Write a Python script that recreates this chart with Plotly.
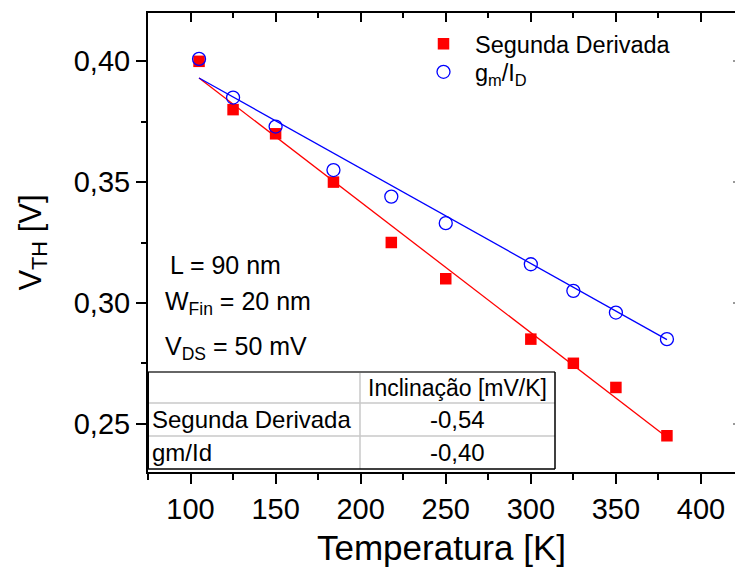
import plotly.graph_objects as go

# ---- data ----
temps = [105, 125, 150, 184, 218, 250, 300, 325, 350, 380]
vth_segunda = [0.400, 0.380, 0.370, 0.350, 0.325, 0.310, 0.285, 0.275, 0.265, 0.245]
vth_gmid = [0.401, 0.385, 0.373, 0.355, 0.344, 0.333, 0.316, 0.305, 0.296, 0.285]
fit_temps = [105, 380]
fit_segunda = [0.3931, 0.2444]
fit_gmid = [0.3931, 0.2848]
table_header = "Inclinação [mV/K]"
table_rows = ["Segunda Derivada", "gm/Id"]
table_slopes = ["-0,54", "-0,40"]
params = ["L = 90 nm", "W<sub>Fin</sub> = 20 nm", "V<sub>DS</sub> = 50 mV"]

FONT = "Liberation Sans, Arial, sans-serif"
RED = "#ff0000"
BLUE = "#0000ff"

# plot area geometry (pixels)
L, T, W, H = 148, 13, 587, 459


def px(x):
    return (x - L) / W


def py(y):
    return (T + H - y) / H


fig = go.Figure()
fig.add_trace(go.Scatter(x=fit_temps, y=fit_segunda, mode="lines",
                         line=dict(color=RED, width=1.3), showlegend=False, hoverinfo="skip"))
fig.add_trace(go.Scatter(x=fit_temps, y=fit_gmid, mode="lines",
                         line=dict(color=BLUE, width=1.3), showlegend=False, hoverinfo="skip"))
fig.add_trace(go.Scatter(x=temps, y=vth_segunda, mode="markers", name="Segunda Derivada",
                         legend="legend",
                         marker=dict(symbol="square", size=11.5, color=RED)))
fig.add_trace(go.Scatter(x=temps, y=vth_gmid, mode="markers", name="g<sub>m</sub>/I<sub>D</sub>",
                         legend="legend2",
                         marker=dict(symbol="circle-open", size=13, color=BLUE, line=dict(width=1.3, color=BLUE))))
# invisible trace for mirror axes
fig.add_trace(go.Scatter(x=[fit_temps[0]], y=[fit_segunda[0]], xaxis="x2", yaxis="y2",
                         mode="markers", marker=dict(opacity=0), showlegend=False, hoverinfo="skip"))

xr = [75, 420]
yr = [0.23, 0.42]

axis_common = dict(showgrid=False, zeroline=False, linecolor="black", linewidth=2,
                   tickcolor="black", tickwidth=1.5)

legend_common = dict(xanchor="left", yanchor="middle", bgcolor="rgba(0,0,0,0)",
                     font=dict(size=23.5), itemwidth=53, tracegroupgap=0)

fig.update_layout(
    width=735, height=567,
    margin=dict(l=L, r=0, t=T, b=567 - T - H),
    paper_bgcolor="white", plot_bgcolor="white",
    separators=",.",
    font=dict(family=FONT, color="black"),
    xaxis=dict(range=xr, tick0=100, dtick=50, ticks="outside", ticklen=10,
               showline=True, mirror=False,
               minor=dict(ticks="outside", ticklen=6, dtick=25, tick0=75, tickcolor="black", tickwidth=1.5),
               tickfont=dict(size=29),
               title=dict(text="Temperatura [K]", font=dict(size=35), standoff=14),
               **axis_common),
    yaxis=dict(range=yr, tick0=0.25, dtick=0.05, tickformat=".2f", ticks="outside", ticklen=10,
               showline=True, mirror=False,
               minor=dict(ticks="outside", ticklen=5, dtick=0.025, tick0=0.225, tickcolor="black", tickwidth=1.5),
               tickfont=dict(size=29),
               title=dict(text="V<sub>TH</sub> [V]", font=dict(size=31), standoff=23),
               **axis_common),
    xaxis2=dict(range=xr, overlaying="x", side="top", anchor="y", tick0=100, dtick=50,
                ticks="inside", ticklen=9, showticklabels=False, showline=True,
                minor=dict(ticks="inside", ticklen=5, dtick=25, tick0=75, tickcolor="black", tickwidth=1.5),
                **axis_common),
    yaxis2=dict(range=yr, overlaying="y", side="right", anchor="x", tick0=0.25, dtick=0.05,
                ticks="inside", ticklen=2, showticklabels=False, showline=False,
                showgrid=False, zeroline=False, tickcolor="#999999", tickwidth=1.5),
    legend=dict(x=px(412), y=py(44), **legend_common),
    legend2=dict(x=px(412), y=py(72), **legend_common),
)

# parameter annotations
param_y = [265, 303, 348]
param_x = [168, 163, 163]
for txt, yy, xx in zip(params, param_y, param_x):
    fig.add_annotation(x=px(xx), y=py(yy), xref="paper", yref="paper", text=txt,
                       showarrow=False, xanchor="left", yanchor="middle",
                       font=dict(size=25, family=FONT, color="black"))

# table
tx0, tx1, tcol = 148, 555, 360
ty = [372, 403, 436, 469]
shapes = []
shapes.append(dict(type="rect", xref="paper", yref="paper", x0=px(tx0), x1=px(tx1),
                   y0=py(ty[3]), y1=py(ty[0]), fillcolor="white", line=dict(width=0), layer="above"))
for yy in ty[1:3]:
    shapes.append(dict(type="line", xref="paper", yref="paper", x0=px(tx0), x1=px(tx1),
                       y0=py(yy), y1=py(yy), line=dict(color="#c8c8c8", width=1.5), layer="above"))
shapes.append(dict(type="line", xref="paper", yref="paper", x0=px(tcol), x1=px(tcol),
                   y0=py(ty[3]), y1=py(ty[0]), line=dict(color="#c8c8c8", width=1.5), layer="above"))
shapes.append(dict(type="line", xref="paper", yref="paper", x0=px(tx0), x1=px(tx1),
                   y0=py(ty[0]), y1=py(ty[0]), line=dict(color="#666666", width=2), layer="above"))
shapes.append(dict(type="line", xref="paper", yref="paper", x0=px(tx0), x1=px(tx1),
                   y0=py(ty[3]), y1=py(ty[3]), line=dict(color="black", width=1.5), layer="above"))
shapes.append(dict(type="line", xref="paper", yref="paper", x0=px(tx1), x1=px(tx1),
                   y0=py(ty[3]), y1=py(ty[0]), line=dict(color="black", width=1.5), layer="above"))
shapes.append(dict(type="line", xref="paper", yref="paper", x0=px(tx0), x1=px(tx0),
                   y0=py(ty[3]), y1=py(ty[0]), line=dict(color="black", width=2), layer="above"))
fig.update_layout(shapes=shapes)

cell_font = dict(size=24, family=FONT, color="black")
fig.add_annotation(x=px((tcol + tx1) / 2), y=py((ty[0] + ty[1]) / 2), xref="paper", yref="paper",
                   text=table_header, showarrow=False, xanchor="center", yanchor="middle",
                   font=dict(size=23, family=FONT, color="black"))
for i, (name, slope) in enumerate(zip(table_rows, table_slopes)):
    yc = (ty[i + 1] + ty[i + 2]) / 2
    fig.add_annotation(x=px(tx0 + 2), y=py(yc), xref="paper", yref="paper", text=name,
                       showarrow=False, xanchor="left", yanchor="middle", font=cell_font)
    fig.add_annotation(x=px((tcol + tx1) / 2), y=py(yc), xref="paper", yref="paper", text=slope,
                       showarrow=False, xanchor="center", yanchor="middle", font=cell_font)

fig.write_html("out.html")
